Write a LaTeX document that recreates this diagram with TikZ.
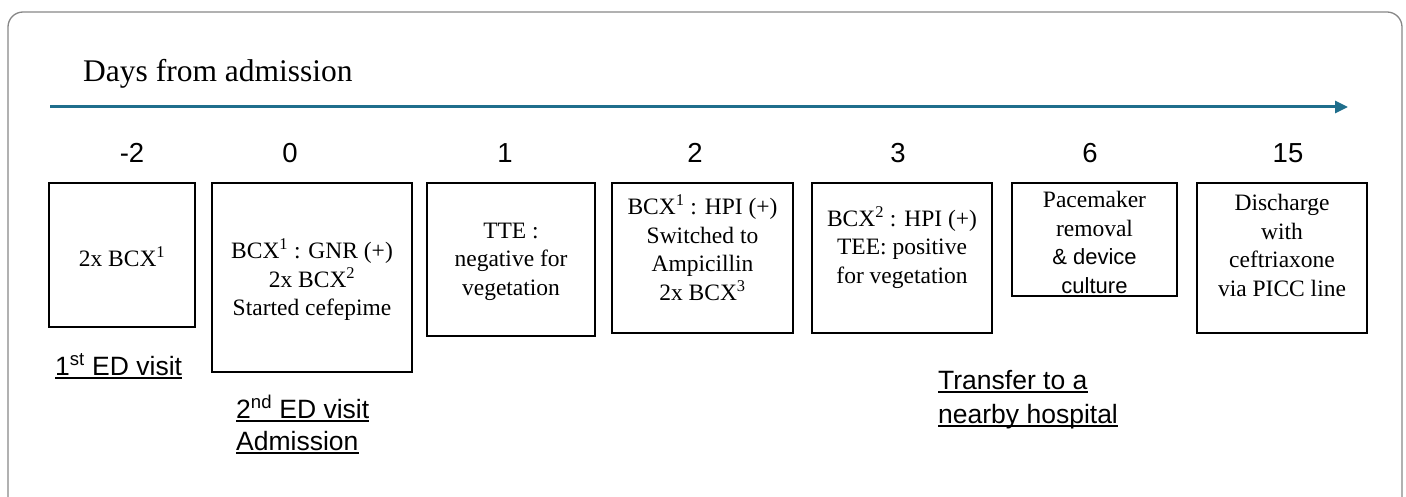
\documentclass[tikz,border=0pt]{standalone}
\usepackage{fontspec}
\setmainfont{Liberation Serif}
\setsansfont{Liberation Sans}
\usetikzlibrary{arrows.meta}
\definecolor{axisblue}{RGB}{31,110,140}
\definecolor{framegray}{RGB}{135,135,135}
\begin{document}
\begin{tikzpicture}[x=1pt,y=-1pt,
  evbox/.style={draw=black,line width=2.8pt,inner sep=0pt},
  evtext/.style={font=\fontsize{23.5}{28.5}\selectfont,align=center,inner sep=0pt},
  daynum/.style={font=\sffamily\fontsize{27.5}{30}\selectfont,inner sep=0pt},
  lbl/.style={font=\sffamily\fontsize{26.5}{30}\selectfont,inner sep=0pt,anchor=base west},
  uline/.style={line width=1.1pt}]
\useasboundingbox (0,0) rectangle (1406,497);
\clip (0,0) rectangle (1406,497);
% frame
\draw[framegray,line width=1.3pt,rounded corners=15pt] (8,12) rectangle (1402,560);
% title and axis
\node[font=\fontsize{31.5}{34}\selectfont,inner sep=0pt,anchor=base west] (title) at (83,82) {Days from admission};
\coordinate (axs) at (50,107);
\coordinate (axe) at (1348,107);
\draw[axisblue,line width=3pt,-{Triangle[length=13pt,width=12pt]}] (axs) -- (axe);
% day numbers
\node[daynum] (dm2) at (132,153) {-2};
\node[daynum] (d0) at (290,153) {0};
\node[daynum] (d1) at (505,153) {1};
\node[daynum] (d2) at (695,153) {2};
\node[daynum] (d3) at (898,153) {3};
\node[daynum] (d6) at (1090,153) {6};
\node[daynum] (d15) at (1288,153) {15};
% boxes
\node[evbox,minimum width=146pt,minimum height=144pt] (bm2) at (122,255) {};
\node[evbox,minimum width=200pt,minimum height=189pt] (b0) at (312,277.5) {};
\node[evbox,minimum width=168pt,minimum height=153pt] (b1) at (511,259.5) {};
\node[evbox,minimum width=181pt,minimum height=150pt] (b2) at (702.5,258) {};
\node[evbox,minimum width=180pt,minimum height=150pt] (b3) at (902,258) {};
\node[evbox,minimum width=165pt,minimum height=113pt] (b6) at (1094.5,239.5) {};
\node[evbox,minimum width=170pt,minimum height=150pt] (b15) at (1282,258) {};
% box texts
\node[evtext] (tm2) at (122,257) {2x BCX\textsuperscript{1}};
\node[evtext] (t0) at (312,280) {BCX\textsuperscript{1} : GNR (+)\\2x BCX\textsuperscript{2}\\Started cefepime};
\node[evtext] (t1) at (511,261.5) {TTE :\\negative for\\vegetation};
\node[evtext] (t2) at (702.5,247.5) {BCX\textsuperscript{1} : HPI (+)\\Switched to\\Ampicillin\\2x BCX\textsuperscript{3}};
\node[evtext] (t3) at (902,247.5) {BCX\textsuperscript{2} : HPI (+)\\TEE: positive\\for vegetation};
\node[evtext] (t6) at (1094.5,242.5) {Pacemaker\\removal\\{\sffamily\fontsize{22}{28.5}\selectfont \& device}\\{\sffamily\fontsize{22}{28.5}\selectfont culture}};
\node[evtext] (t15) at (1282,245.5) {Discharge\\with\\ceftriaxone\\via PICC line};
% underlined labels
\node[lbl] (l1) at (55,375) {1\textsuperscript{st} ED visit};
\node[lbl] (l2a) at (236,418) {2\textsuperscript{nd} ED visit};
\node[lbl] (l2b) at (236,450) {Admission};
\node[lbl] (l3a) at (938,389) {Transfer to a};
\node[lbl] (l3b) at (938,423) {nearby hospital};
\foreach \n in {l1,l2a,l2b,l3a,l3b}
  \draw[uline] ([yshift=-3pt]\n.base west) -- ([yshift=-3pt]\n.base east);
\end{tikzpicture}
\end{document}
